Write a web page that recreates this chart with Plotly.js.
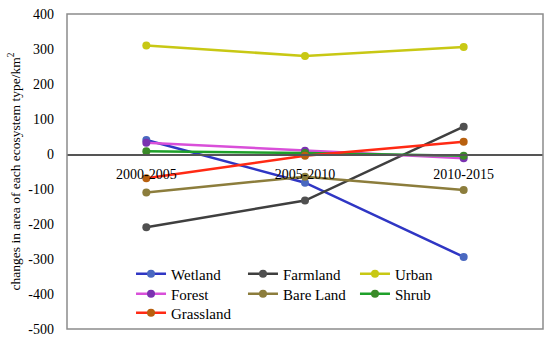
<!DOCTYPE html>
<html>
<head>
<meta charset="utf-8">
<script src="https://cdn.plot.ly/plotly-3.0.1.min.js"></script>
<style>html,body{margin:0;padding:0;background:#fff;}#chart{width:550px;height:340px;}</style>
</head>
<body>
<div id="chart"></div>
<script>
const periods = ["2000-2005", "2005-2010", "2010-2015"];
const seriesNames = ["Wetland", "Farmland", "Urban", "Forest", "Bare Land", "Shrub", "Grassland"];
const wetland = [40, -82, -294];
const farmland = [-209, -133, 78];
const urban = [310, 280, 306];
const forest = [32, 9, -12];
const bareLand = [-110, -65, -103];
const shrub = [8, 3, -5];
const grassland = [-69, -5, 35];
const yTicks = [400, 300, 200, 100, 0, -100, -200, -300, -400, -500];

const values = [wetland, farmland, urban, forest, bareLand, shrub, grassland];
const lineColors = ["#2f36c4", "#3f3f3f", "#c8c814", "#d94fd9", "#8c7d3c", "#1ea02a", "#ff2a14"];
const markerColors = ["#4a68c0", "#505050", "#c8c814", "#7a32b0", "#8c7d3c", "#3a8a28", "#b8600f"];
const legendIds = ["legend", "legend2", "legend3", "legend4", "legend5", "legend6", "legend7"];
// legend grid: column and row of each series entry
const legendCol = [0, 1, 2, 0, 1, 2, 0];
const legendRow = [0, 0, 0, 1, 1, 1, 2];

const traces = seriesNames.map((n, i) => ({
  type: "scatter", mode: "lines+markers", name: n,
  x: periods, y: values[i],
  legend: legendIds[i],
  line: {color: lineColors[i], width: 2.5},
  marker: {color: markerColors[i], size: 8}
}));

const serif = "Liberation Serif, serif";
const colX = [0.1345, 0.3697, 0.605];
const rowY = [0.1746, 0.1111, 0.0508];

const layout = {
  width: 550, height: 340,
  margin: {l: 67, r: 7, t: 14, b: 11, autoexpand: false},
  paper_bgcolor: "#fff", plot_bgcolor: "#fff",
  showlegend: true,
  font: {family: serif, color: "#000"},
  xaxis: {
    type: "category", range: [-0.5, 2.5],
    anchor: "free", position: 500 / 900,
    showline: true, linecolor: "#555", linewidth: 1.5,
    showgrid: false, zeroline: false, ticks: "",
    tickfont: {family: serif, size: 14, color: "#000"},
    ticklabelstandoff: 7
  },
  yaxis: {
    range: [-500, 400], tickvals: yTicks, ticktext: yTicks.map(String),
    showgrid: false, zeroline: false, showline: false, ticks: "",
    tickfont: {family: serif, size: 14, color: "#000"},
    ticklabelstandoff: 12,
    automargin: false,
    title: {text: "changes in area of each ecosystem type/km<sup>2</sup>", font: {family: serif, size: 13.5, color: "#000"}, standoff: 4}
  },
  shapes: [{type: "rect", xref: "paper", yref: "paper", x0: 0, x1: 1, y0: 0, y1: 1, line: {color: "#8c8c8c", width: 1.5}}]
};
legendIds.forEach((id, i) => {
  layout[id] = {
    orientation: "v", x: colX[legendCol[i]], y: rowY[legendRow[i]],
    xanchor: "left", yanchor: "middle",
    font: {family: serif, size: 15, color: "#000"},
    bgcolor: "rgba(0,0,0,0)", itemwidth: 30
  };
});
Plotly.newPlot("chart", traces, layout, {displayModeBar: false, staticPlot: true});
</script>
</body>
</html>
